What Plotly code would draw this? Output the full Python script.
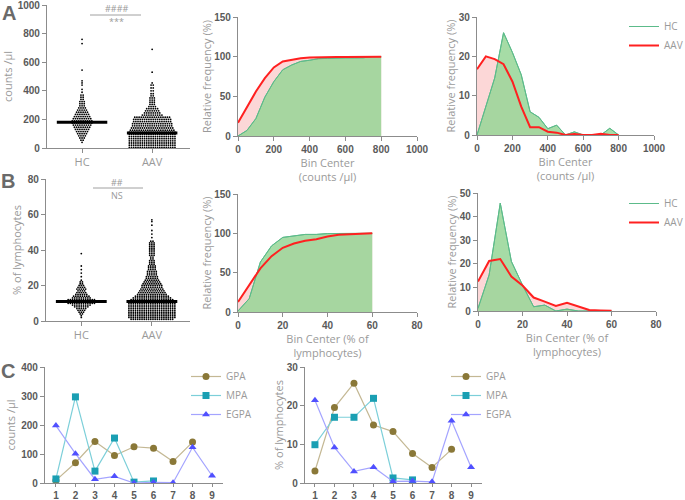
import plotly.graph_objects as go

# ---------------- DATA ----------------
# Panel A1 swarm (counts /µl): row levels and number of dots per row
hc_a_levels = [40, 55, 70, 85, 100, 115, 130, 145, 160, 175, 190, 205, 220, 235, 250, 265, 280, 295, 310, 325, 340, 355, 370, 390, 410, 440, 455, 470, 545, 730, 760]
hc_a_counts = [1, 2, 3, 4, 5, 6, 7, 8, 9, 10, 10, 9, 8, 7, 6, 5, 4, 3, 3, 3, 2, 2, 2, 1, 1, 1, 1, 1, 1, 1, 1]
aav_a_levels = [5, 20, 35, 50, 65, 80, 95, 110, 125, 140, 155, 170, 185, 200, 215, 230, 245, 260, 275, 290, 305, 320, 335, 350, 365, 380, 400, 420, 440, 455, 530, 690]
aav_a_counts = [22, 22, 22, 22, 22, 22, 22, 22, 21, 20, 19, 19, 18, 18, 17, 10, 8, 7, 6, 4, 3, 3, 3, 3, 2, 2, 2, 2, 2, 1, 1, 1]
median_a = [180, 105]

# Panel B1 swarm (% of lymphocytes)
hc_b_levels = [2, 3, 4, 5, 6, 7, 8, 9, 10, 11, 12, 13, 14, 15, 16, 17, 18, 19, 20, 21, 22, 23, 25, 27, 29, 31, 38]
hc_b_counts = [1, 1, 2, 3, 4, 5, 7, 9, 13, 15, 13, 9, 8, 6, 5, 4, 5, 4, 3, 2, 2, 1, 1, 1, 1, 1, 1]
aav_b_levels = [1, 2, 3, 4, 5, 6, 7, 8, 9, 10, 11, 12, 13, 14, 15, 16, 17, 18, 19, 20, 21, 22, 23, 24, 25, 26, 27, 28, 29, 30, 31, 32, 33, 34, 35, 36, 37, 38, 39, 40, 41, 42, 43, 44, 45, 47, 49, 51, 54, 56, 57]
aav_b_counts = [20, 22, 22, 22, 22, 22, 22, 22, 22, 22, 22, 20, 18, 16, 14, 13, 12, 11, 10, 10, 9, 8, 7, 6, 6, 5, 5, 5, 4, 4, 4, 3, 3, 3, 2, 2, 3, 3, 3, 3, 3, 3, 3, 3, 2, 1, 1, 1, 1, 1, 1]
median_b = [11, 11]
groups = ["HC", "AAV"]

# Panel A2/A3: bins (counts /µl)
bins_a = [0, 50, 100, 150, 200, 250, 300, 350, 400, 450, 500, 550, 600, 650, 700, 750, 800]
hc_cum_a = [0, 7, 22, 49, 68.5, 83.5, 89.5, 94, 95.5, 97.5, 97.8, 98.5, 98.5, 98.5, 98.6, 100, 100]
aav_cum_a = [16.8, 37, 56, 73, 86.5, 94, 96, 98, 98.8, 99.4, 99.4, 99.7, 99.7, 99.7, 100, 100, 100]
hc_freq_a = [0, 7, 14.5, 26, 21, 15.3, 5.9, 4.5, 1.6, 2.5, 0, 0.8, 0, 0, 0, 1.7, 0]
aav_freq_a = [16.7, 20, 19.3, 18, 13.6, 7.2, 2, 2, 0.85, 0.6, 0, 0.25, 0, 0, 0.3, 0, 0]

# Panel B2/B3: bins (% of lymphocytes)
bins_b = [0, 5, 10, 15, 20, 25, 30, 35, 40, 45, 50, 55, 60]
hc_cum_b = [1.3, 17, 63.5, 84, 94.8, 96.5, 98.6, 98.6, 99.7, 99.8, 99.9, 100, 100]
aav_cum_b = [12.7, 34, 55.5, 71, 81.6, 87, 90.5, 92.6, 96, 98.2, 98.6, 99.2, 100]
hc_freq_b = [1.1, 15.3, 45.7, 21, 11, 1.8, 2.5, 0, 0.8, 0, 0, 0, 0]
aav_freq_b = [12.5, 21.2, 22, 14.6, 10.8, 5.7, 4, 2.1, 3.5, 1.8, 0.4, 0.2, 0.1]

# Panel C
patients = [1, 2, 3, 4, 5, 6, 7, 8, 9]
gpa_counts = [9, 70, 143, 95, 125, 120, 74, 141, None]
mpa_counts = [14, 297, 41, 155, 3, 7, None, None, None]
egpa_counts = [198, 101, 13, 23, 0, 2, 1, 123, 25]
gpa_pct = [3.1, 19.5, 25.8, 15.0, 13.3, 7.6, 4.0, 8.7, None]
mpa_pct = [9.9, 17.0, 17.0, 21.9, 1.3, 0.8, None, None, None]
egpa_pct = [21.4, 9.2, 3.0, 4.1, 0.4, 0.5, 0.3, 16.1, 4.1]

# ---------------- STYLE ----------------
TICK_FONT = dict(family="Liberation Sans", size=10, color="#5a5a5a", weight="bold")
CAT_FONT = dict(family="Open Sans", size=11, color="#9a9a9a")
TITLE_FONT = dict(family="Open Sans", size=11, color="#9a9a9a")
AXIS = dict(showline=True, linecolor="#8c8c8c", linewidth=1.2, ticks="outside",
            ticklen=4, tickcolor="#8c8c8c", tickwidth=1.2, showgrid=False,
            zeroline=False, tickfont=TICK_FONT, automargin=False,
            ticklabeloverflow="allow")
GREEN_FILL = "rgba(150,214,150,0.85)"
GREEN_LINE = "#5cbb8a"
PINK = "#fcd7d7"
RED = "#ff2020"


def px_x(p):
    return p / 685


def px_y(p):
    return 1 - p / 500


def swarm(levels, counts, center, step):
    xs, ys = [], []
    for v, n in zip(levels, counts):
        for i in range(n):
            xs.append(center + (i - (n - 1) / 2) * step)
            ys.append(v)
    return xs, ys


fig = go.Figure()

# ---- A1 / B1 swarms ----
for (hl, hc, al, ac, med, ax, ay) in [
    (hc_a_levels, hc_a_counts, aav_a_levels, aav_a_counts, median_a, "x", "y"),
    (hc_b_levels, hc_b_counts, aav_b_levels, aav_b_counts, median_b, "x4", "y4"),
]:
    for gi, (lv, ct) in enumerate([(hl, hc), (al, ac)]):
        xs, ys = swarm(lv, ct, gi + 1, 0.031)
        fig.add_trace(go.Scatter(x=xs, y=ys, mode="markers", xaxis=ax, yaxis=ay,
                                 marker=dict(size=1.8, color="black"), showlegend=False,
                                 hoverinfo="skip"))
    for gi in range(2):
        fig.add_trace(go.Scatter(x=[gi + 1 - 0.36, gi + 1 + 0.36], y=[med[gi], med[gi]],
                                 mode="lines", xaxis=ax, yaxis=ay,
                                 line=dict(color="black", width=3), showlegend=False))

# ---- frequency panels ----
panel_specs = [
    (bins_a, hc_cum_a, aav_cum_a, "x2", "y2", None),
    (bins_a, hc_freq_a, aav_freq_a, "x3", "y3", "legend"),
    (bins_b, hc_cum_b, aav_cum_b, "x5", "y5", None),
    (bins_b, hc_freq_b, aav_freq_b, "x6", "y6", "legend2"),
]
for bins, hcv, aavv, ax, ay, leg in panel_specs:
    fig.add_trace(go.Scatter(x=bins, y=aavv, mode="lines", fill="tozeroy", fillcolor=PINK,
                             line=dict(width=0, color=PINK), xaxis=ax, yaxis=ay,
                             showlegend=False))
    fig.add_trace(go.Scatter(x=bins, y=hcv, mode="lines", fill="tozeroy", fillcolor=GREEN_FILL,
                             line=dict(width=1, color=GREEN_LINE), xaxis=ax, yaxis=ay,
                             showlegend=False))
    fig.add_trace(go.Scatter(x=bins, y=hcv, mode="lines", name="HC",
                             line=dict(width=1, color=GREEN_LINE), xaxis=ax, yaxis=ay,
                             showlegend=leg is not None, legend=leg or "legend"))
    fig.add_trace(go.Scatter(x=bins, y=aavv, mode="lines", name="AAV",
                             line=dict(width=2, color=RED), xaxis=ax, yaxis=ay,
                             showlegend=leg is not None, legend=leg or "legend"))

# ---- C panels ----
c_series = [
    ("GPA", "circle", "#8a7838", "#c4b894", 7),
    ("MPA", "square", "#1a9fb3", "#7ccfd9", 7),
    ("EGPA", "triangle-up", "#5050ff", "#a4a4ff", 7),
]
for (ax, ay, leg, datasets) in [
    ("x7", "y7", "legend3", [gpa_counts, mpa_counts, egpa_counts]),
    ("x8", "y8", "legend4", [gpa_pct, mpa_pct, egpa_pct]),
]:
    for (name, sym, mc, lc, ms), vals in zip(c_series, datasets):
        fig.add_trace(go.Scatter(x=patients, y=vals, mode="lines+markers", name=name,
                                 xaxis=ax, yaxis=ay, legend=leg,
                                 line=dict(color=lc, width=1.2),
                                 marker=dict(symbol=sym, size=ms, color=mc)))

# ---------------- LAYOUT ----------------
def xdom(a, b):
    return [px_x(a), px_x(b)]


def ydom(top, bottom):
    return [px_y(bottom), px_y(top)]


layout = dict(
    width=685, height=500, margin=dict(l=0, r=0, t=0, b=0, autoexpand=False),
    paper_bgcolor="white", plot_bgcolor="white",
    font=dict(family="Open Sans", color="#9a9a9a"),
)

# A1
layout["xaxis"] = dict(AXIS, domain=xdom(47, 190), range=[0.5, 2.54], tickvals=[1, 2],
                       ticktext=groups, tickfont=CAT_FONT, anchor="y")
layout["yaxis"] = dict(AXIS, domain=ydom(5, 148), range=[0, 1000], dtick=200, anchor="x",
                       title=dict(text="counts /µl", font=TITLE_FONT, standoff=3))
# A2
layout["xaxis2"] = dict(AXIS, domain=xdom(238, 417), range=[0, 1000], dtick=200, anchor="y2",
                        title=dict(text="Bin Center<br>(counts /µl)", font=TITLE_FONT, standoff=2))
layout["yaxis2"] = dict(AXIS, domain=ydom(17, 136), range=[0, 150], dtick=50, anchor="x2",
                        title=dict(text="Relative frequency (%)", font=TITLE_FONT, standoff=0))
# A3
layout["xaxis3"] = dict(AXIS, domain=xdom(477, 654), range=[0, 1000], dtick=200, anchor="y3",
                        title=dict(text="Bin Center<br>(counts /µl)", font=TITLE_FONT, standoff=2))
layout["yaxis3"] = dict(AXIS, domain=ydom(17, 135), range=[0, 30], dtick=10, anchor="x3",
                        title=dict(text="Relative frequency (%)", font=TITLE_FONT, standoff=0))
# B1
layout["xaxis4"] = dict(AXIS, domain=xdom(46, 190), range=[0.5, 2.54], tickvals=[1, 2],
                        ticktext=groups, tickfont=CAT_FONT, anchor="y4")
layout["yaxis4"] = dict(AXIS, domain=ydom(179, 321), range=[0, 80], dtick=20, anchor="x4",
                        title=dict(text="% of lymphocytes", font=TITLE_FONT, standoff=3))
# B2
layout["xaxis5"] = dict(AXIS, domain=xdom(238, 417), range=[0, 80], dtick=20, anchor="y5",
                        title=dict(text="Bin Center (% of<br>lymphocytes)", font=TITLE_FONT, standoff=0))
layout["yaxis5"] = dict(AXIS, domain=ydom(194, 312), range=[0, 150], dtick=50, anchor="x5",
                        title=dict(text="Relative frequency (%)", font=TITLE_FONT, standoff=0))
# B3
layout["xaxis6"] = dict(AXIS, domain=xdom(478, 656), range=[0, 80], dtick=20, anchor="y6",
                        title=dict(text="Bin Center (% of<br>lymphocytes)", font=TITLE_FONT, standoff=0))
layout["yaxis6"] = dict(AXIS, domain=ydom(193, 311), range=[0, 50], dtick=10, anchor="x6",
                        title=dict(text="Relative frequency (%)", font=TITLE_FONT, standoff=0))
# C1
layout["xaxis7"] = dict(AXIS, domain=xdom(45, 223), range=[0.44, 9.56], dtick=1, anchor="y7",
                        ticklen=3)
layout["yaxis7"] = dict(AXIS, domain=ydom(367, 483), range=[0, 400], dtick=100, anchor="x7",
                        title=dict(text="counts /µl", font=TITLE_FONT, standoff=3))
# C2
layout["xaxis8"] = dict(AXIS, domain=xdom(305, 482), range=[0.49, 9.56], dtick=1, anchor="y8",
                        ticklen=3)
layout["yaxis8"] = dict(AXIS, domain=ydom(367, 483), range=[0, 30], dtick=10, anchor="x8",
                        title=dict(text="% of lymphocytes", font=TITLE_FONT, standoff=0))

LEG = dict(font=dict(family="Open Sans", size=10, color="#9a9a9a"), bgcolor="rgba(0,0,0,0)",
           xanchor="left", yanchor="top", itemwidth=30, tracegroupgap=0)
layout["legend"] = dict(LEG, x=px_x(624), y=px_y(12))
layout["legend2"] = dict(LEG, x=px_x(624), y=px_y(189))
layout["legend3"] = dict(LEG, x=px_x(186), y=px_y(362))
layout["legend4"] = dict(LEG, x=px_x(446), y=px_y(362))

fig.update_layout(**layout)

# panel letters
for letter, lx, ly in [("A", 9, 13), ("B", 8, 181), ("C", 8, 371)]:
    fig.add_annotation(text=letter, x=px_x(lx), y=px_y(ly), xref="paper", yref="paper",
                       xanchor="center", yanchor="middle", showarrow=False,
                       font=dict(family="Liberation Sans", size=20, color="#6a6a6a",
                                 weight="bold"))

# significance marks
sig = [("####", "***", 116, 8, 15, 21, 90, 141),
       ("##", "NS", 117, 182, 188, 195, 93, 143)]
for top, bot, cx, ty, ly, by, x0, x1 in sig:
    fig.add_annotation(text=top, x=px_x(cx), y=px_y(ty), xref="paper", yref="paper",
                       xanchor="center", yanchor="middle", showarrow=False,
                       font=dict(family="Open Sans", size=9, color="#9a9a9a"))
    fig.add_annotation(text=bot, x=px_x(cx), y=px_y(by), xref="paper", yref="paper",
                       xanchor="center", yanchor="middle", showarrow=False,
                       font=dict(family="Open Sans", size=9, color="#9a9a9a"))
    fig.add_shape(type="line", xref="paper", yref="paper", x0=px_x(x0), x1=px_x(x1),
                  y0=px_y(ly), y1=px_y(ly), line=dict(color="#a0a0a0", width=1))

fig.write_html("out.html", config={"displayModeBar": False},
               post_script="document.body.style.margin='0';document.body.style.overflow='hidden';")
